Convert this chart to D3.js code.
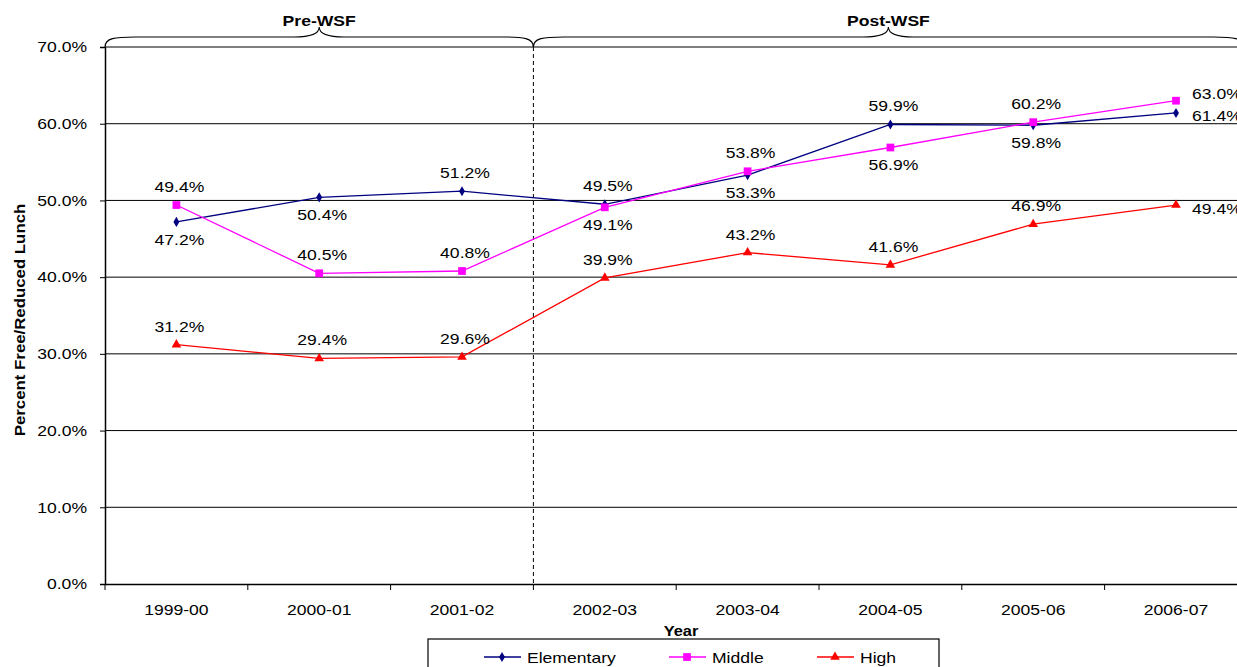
<!DOCTYPE html>
<html>
<head>
<meta charset="utf-8">
<script src="https://cdn.jsdelivr.net/npm/d3@7"></script>
<style>
  body { margin: 0; background: #fff; }
  svg { display: block; font-family: "Liberation Sans", Arial, sans-serif; }
</style>
</head>
<body>
<div id="chart"></div>
<script>
var years = ["1999-00", "2000-01", "2001-02", "2002-03", "2003-04", "2004-05", "2005-06", "2006-07"];
var elementary = [47.2, 50.4, 51.2, 49.5, 53.3, 59.9, 59.8, 61.4];
var middle = [49.4, 40.5, 40.8, 49.1, 53.8, 56.9, 60.2, 63.0];
var high = [31.2, 29.4, 29.6, 39.9, 43.2, 41.6, 46.9, 49.4];
var yTicks = [0, 10, 20, 30, 40, 50, 60, 70];
var periods = ["Pre-WSF", "Post-WSF"];

(function() {
	var width = 1237, height = 667;
	var left = 105, top = 47, bottom = 584;
	var band = 142.8;

	var svg = d3.select("#chart")
		.append("svg")
		.attr("width", width)
		.attr("height", height);

	// the original text is drawn a bit wider than Arial, so widen it
	function stretch(sel, k) {
		sel.each(function() {
			var len = this.getComputedTextLength();
			d3.select(this)
				.attr("textLength", len * (k || 1.17))
				.attr("lengthAdjust", "spacingAndGlyphs");
		});
	}

	var x = d3.scaleBand().domain(years).range([left, left + band * years.length]).padding(0);
	var y = d3.scaleLinear().domain([0, 70]).range([bottom, top]);
	var cx = function(d) { return x(d) + x.bandwidth() / 2; };

	// gridlines
	svg.append("g")
		.selectAll("line")
		.data(yTicks.filter(function(t) { return t > 0; }))
		.enter().append("line")
		.attr("x1", left).attr("x2", x.range()[1])
		.attr("y1", function(d) { return y(d); })
		.attr("y2", function(d) { return y(d); })
		.attr("stroke", function(d) { return d == 70 ? "#555" : "#000"; })
		.attr("stroke-width", function(d) { return d == 70 ? 1.6 : 1; });

	// y axis
	var yAxis = d3.axisLeft(y).tickValues(yTicks).tickSize(5).tickPadding(13)
		.tickFormat(function(d) { return d3.format(".1f")(d) + "%"; });
	var gy = svg.append("g")
		.attr("transform", "translate(" + left + ",0)")
		.call(yAxis);
	gy.select(".domain").attr("stroke", "#000").attr("stroke-width", 1.5);
	gy.selectAll("text").attr("font-size", 15).attr("fill", "#000")
		.attr("font-family", "Liberation Sans, Arial, sans-serif")
		.call(stretch);

	// x axis
	var xAxis = d3.axisBottom(x).tickSize(0).tickPadding(20);
	var gx = svg.append("g")
		.attr("transform", "translate(0," + bottom + ")")
		.call(xAxis);
	gx.select(".domain").attr("stroke", "#000").attr("stroke-width", 1.5);
	gx.selectAll("text").attr("font-size", 15).attr("fill", "#000")
		.attr("font-family", "Liberation Sans, Arial, sans-serif")
		.call(stretch);
	gx.append("g").selectAll("line")
		.data(years)
		.enter().append("line")
		.attr("x1", function(d) { return x(d); })
		.attr("x2", function(d) { return x(d); })
		.attr("y1", 0).attr("y2", 6)
		.attr("stroke", "#000");

	// dashed divider between pre/post
	var divX = x(years[3]);
	svg.append("line")
		.attr("x1", divX).attr("x2", divX)
		.attr("y1", top).attr("y2", bottom)
		.attr("stroke", "#000")
		.attr("stroke-dasharray", "4,3");

	// braces
	function brace(x0, x1) {
		var m = (x0 + x1) / 2, yb = top, yf = top - 10, yt = top - 20;
		return "M" + x0 + "," + yb +
			" C" + x0 + "," + (yf + 1) + " " + (x0 + 10) + "," + yf + " " + (x0 + 30) + "," + yf +
			" L" + (m - 25) + "," + yf +
			" C" + (m - 8) + "," + yf + " " + m + "," + (yf - 3) + " " + m + "," + yt +
			" C" + m + "," + (yf - 3) + " " + (m + 8) + "," + yf + " " + (m + 25) + "," + yf +
			" L" + (x1 - 30) + "," + yf +
			" C" + (x1 - 10) + "," + yf + " " + x1 + "," + (yf + 1) + " " + x1 + "," + yb;
	}
	var spans = [[left, divX], [divX, x.range()[1] - 4]];
	spans.forEach(function(s, i) {
		svg.append("path")
			.attr("d", brace(s[0], s[1]))
			.attr("fill", "none")
			.attr("stroke", "#000")
			.attr("stroke-width", 1.1);
		svg.append("text")
			.attr("x", (s[0] + s[1]) / 2)
			.attr("y", 26)
			.attr("text-anchor", "middle")
			.attr("font-size", 15)
			.attr("font-weight", "bold")
			.text(periods[i])
			.call(stretch);
	});

	// series
	var series = [
		{ name: "Elementary", values: elementary, color: "#000080", symbol: d3.symbolDiamond, size: 30,
		  pos: ["below", "below", "above", "above", "below", "above", "below", "right"], rdy: 8 },
		{ name: "Middle", values: middle, color: "#FF00FF", symbol: d3.symbolSquare, size: 60,
		  pos: ["above", "above", "above", "below", "above", "below", "above", "right"], rdy: -2 },
		{ name: "High", values: high, color: "#FF0000", symbol: d3.symbolTriangle, size: 40,
		  pos: ["above", "above", "above", "above", "above", "above", "above", "right"], rdy: 9 }
	];

	var line = d3.line()
		.x(function(d, i) { return cx(years[i]); })
		.y(function(d) { return y(d); });

	series.forEach(function(s) {
		svg.append("path")
			.datum(s.values)
			.attr("d", line)
			.attr("fill", "none")
			.attr("stroke", s.color)
			.attr("stroke-width", 1.3);

		svg.append("g").selectAll("path")
			.data(s.values)
			.enter().append("path")
			.attr("d", d3.symbol().type(s.symbol).size(s.size))
			.attr("transform", function(d, i) { return "translate(" + cx(years[i]) + "," + y(d) + ")"; })
			.attr("fill", s.color);

		svg.append("g").selectAll("text")
			.data(s.values)
			.enter().append("text")
			.attr("x", function(d, i) { return s.pos[i] == "right" ? cx(years[i]) + 16 : cx(years[i]) + 3; })
			.attr("y", function(d, i) {
				var p = s.pos[i];
				if (p == "above") return y(d) - 13;
				if (p == "below") return y(d) + 23;
				return y(d) + s.rdy;
			})
			.attr("text-anchor", function(d, i) { return s.pos[i] == "right" ? "start" : "middle"; })
			.attr("font-size", 15)
			.attr("fill", "#000")
			.text(function(d) { return d3.format(".1f")(d) + "%"; })
			.call(stretch);
	});

	// axis titles
	svg.append("text")
		.attr("x", 681).attr("y", 636)
		.attr("text-anchor", "middle")
		.attr("font-size", 14)
		.attr("font-weight", "bold")
		.text("Year")
		.call(stretch);

	svg.append("text")
		.attr("text-anchor", "middle")
		.attr("transform", "translate(25," + 320 + ")rotate(-90)")
		.attr("font-size", 14)
		.attr("font-weight", "bold")
		.text("Percent Free/Reduced Lunch")
		.call(stretch, 1.2);

	// legend
	var legend = svg.append("g");
	legend.append("rect")
		.attr("x", 428).attr("y", 639)
		.attr("width", 511).attr("height", 40)
		.attr("fill", "#fff")
		.attr("stroke", "#000")
		.attr("stroke-width", 1.2);
	var legendX = [484, 669, 817];
	series.forEach(function(s, i) {
		var lx = legendX[i];
		legend.append("line")
			.attr("x1", lx).attr("x2", lx + 37)
			.attr("y1", 657).attr("y2", 657)
			.attr("stroke", s.color)
			.attr("stroke-width", 1.3);
		legend.append("path")
			.attr("d", d3.symbol().type(s.symbol).size(s.size))
			.attr("transform", "translate(" + (lx + 18) + ",657)")
			.attr("fill", s.color);
		legend.append("text")
			.attr("x", lx + 43).attr("y", 663)
			.attr("font-size", 15)
			.text(s.name)
			.call(stretch);
	});
})();
</script>
</body>
</html>
